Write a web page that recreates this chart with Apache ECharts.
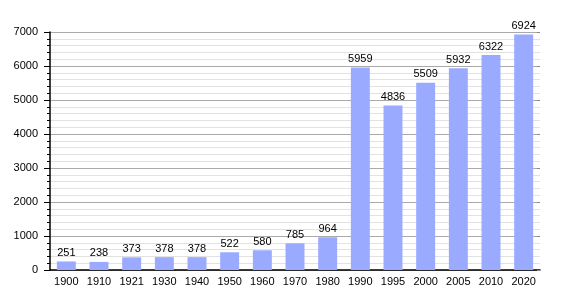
<!DOCTYPE html>
<html><head><meta charset="utf-8">
<script src="https://cdn.jsdelivr.net/npm/echarts@6/dist/echarts.min.js"></script>
<style>html,body{margin:0;padding:0;background:#fff}#c{width:570px;height:300px}</style>
</head><body><div id="c"></div>
<script>
const categories = ['1900','1910','1921','1930','1940','1950','1960','1970','1980','1990','1995','2000','2005','2010','2020'];
const population = [251,238,373,378,378,522,580,785,964,5959,4836,5509,5932,6322,6924];
const yMin = 0, yMax = 7000, yStep = 1000;

const chart = echarts.init(document.getElementById('c'), null, {renderer:'canvas'});
const font = 'Liberation Sans, Arial, sans-serif';
chart.setOption({
  animation:false,
  backgroundColor:'#fff',
  grid:{left:50,right:30,top:32,bottom:30,containLabel:false},
  xAxis:{type:'category',data:categories,
    axisLine:{lineStyle:{color:'#000',width:1.5}},
    axisTick:{show:false},
    axisLabel:{color:'#000',fontFamily:font,fontSize:11,margin:6}
  },
  yAxis:[{type:'value',min:yMin,max:yMax,interval:yStep,
    axisLine:{show:true,lineStyle:{color:'#000',width:1.5}},
    axisTick:{show:true,inside:false,length:6,lineStyle:{color:'#000'}},
    minorTick:{show:true,splitNumber:5,length:3,lineStyle:{color:'#000'}},
    splitLine:{show:true,lineStyle:{color:'#aaa',width:1}},
    minorSplitLine:{show:true,lineStyle:{color:'#e2e2e2',width:1}},
    axisLabel:{color:'#000',fontFamily:font,fontSize:11,margin:12,formatter:v=>String(v)}
  },{type:'value',min:yMin,max:yMax,interval:yStep,position:'right',
    axisLine:{show:false},
    axisTick:{show:true,inside:true,length:3,lineStyle:{color:'#888'}},
    splitLine:{show:false},axisLabel:{show:false}
  }],
  series:[{type:'bar',data:population,barCategoryGap:'42%',
    itemStyle:{color:'#99aaff'},
    label:{show:true,position:'top',distance:3,color:'#000',fontFamily:font,fontSize:11}
  }]
});
</script></body></html>
